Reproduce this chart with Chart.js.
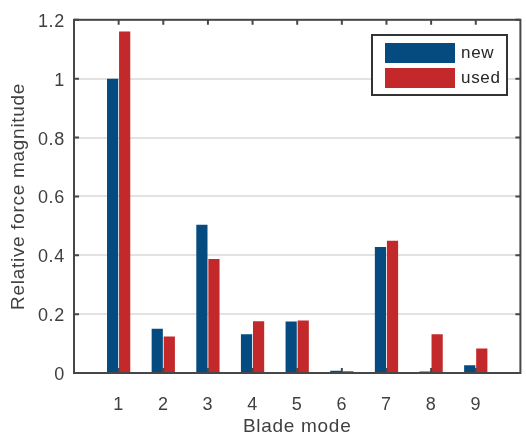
<!DOCTYPE html>
<html>
<head>
<meta charset="utf-8">
<script src="https://cdn.jsdelivr.net/npm/chart.js@4.4.1/dist/chart.umd.min.js"></script>
<style>
  html, body { margin: 0; padding: 0; background: #fff; overflow: hidden; }
  #wrap { width: 526px; height: 437px; overflow: hidden; }
</style>
</head>
<body>
<div id="wrap"><canvas id="forceChart" width="534" height="437"></canvas></div>
<script>
// Data
const modes = ['1', '2', '3', '4', '5', '6', '7', '8', '9'];
const newBlade = [1.0, 0.150, 0.504, 0.132, 0.175, 0.008, 0.428, 0.005, 0.026];
const usedBlade = [1.16, 0.124, 0.387, 0.176, 0.178, 0.006, 0.449, 0.132, 0.083];
const yTicks = [0, 0.2, 0.4, 0.6, 0.8, 1, 1.2];

const textColor = '#404040';
const axisColor = '#474747';
const fontFamily = '"Liberation Sans", Arial, sans-serif';
const spacing = '0.7px';

// one empty slot each side so the axis runs 0..10 like the original
const labels = ['', ...modes, ''];
const pad = arr => [null, ...arr, null];

// box, inward tick marks and legend drawn on top of the bars
const framePlugin = {
  id: 'frame',
  beforeUpdate(chart) { chart.ctx.letterSpacing = spacing; },
  beforeDraw(chart) { chart.ctx.letterSpacing = spacing; },
  afterDatasetsDraw(chart) {
    const { ctx, chartArea: a, scales: { x, y } } = chart;
    ctx.save();
    ctx.strokeStyle = axisColor;
    ctx.lineWidth = 2;
    ctx.strokeRect(a.left, a.top, a.right - a.left, a.bottom - a.top);

    const len = 5;
    ctx.beginPath();
    modes.forEach((m, i) => {
      const px = x.getPixelForValue(i + 1);
      ctx.moveTo(px, a.bottom); ctx.lineTo(px, a.bottom - len);
      ctx.moveTo(px, a.top); ctx.lineTo(px, a.top + len);
    });
    yTicks.forEach(v => {
      const py = y.getPixelForValue(v);
      ctx.moveTo(a.left, py); ctx.lineTo(a.left + len, py);
      ctx.moveTo(a.right, py); ctx.lineTo(a.right - len, py);
    });
    ctx.stroke();

    // legend
    ctx.fillStyle = '#fff';
    ctx.fillRect(372, 35, 135, 60);
    ctx.strokeStyle = '#333';
    ctx.strokeRect(372, 35, 135, 60);
    ctx.font = '17px ' + fontFamily;
    ctx.textBaseline = 'middle';
    ctx.textAlign = 'left';
    chart.data.datasets.forEach((ds, i) => {
      const top = 43 + i * 25;
      ctx.fillStyle = ds.backgroundColor;
      ctx.fillRect(385, top, 70, 20);
      ctx.fillStyle = '#262626';
      ctx.fillText(ds.label, 461, top + 10);
    });
    ctx.restore();
  }
};

const ctx = document.getElementById('forceChart').getContext('2d');
const forceChart = new Chart(ctx, {
  type: 'bar',
  data: {
    labels: labels,
    datasets: [
      { label: 'new', data: pad(newBlade), backgroundColor: '#064b80' },
      { label: 'used', data: pad(usedBlade), backgroundColor: '#c3292a' }
    ]
  },
  options: {
    responsive: false,
    animation: false,
    devicePixelRatio: 1,
    categoryPercentage: 0.54,
    barPercentage: 0.93,
    layout: { padding: { top: 13, right: 6, left: 0, bottom: 0 } },
    plugins: {
      legend: { display: false },
      tooltip: { enabled: false }
    },
    scales: {
      x: {
        offset: false,
        grid: { display: false },
        border: { display: false },
        ticks: {
          color: textColor,
          padding: 13.6,
          maxRotation: 0,
          autoSkip: false,
          font: { family: fontFamily, size: 18 }
        },
        title: {
          display: true,
          text: 'Blade mode',
          color: textColor,
          font: { family: fontFamily, size: 19, lineHeight: 1 },
          padding: { top: 0, bottom: 0.7 }
        },
        afterFit(scale) { scale.height = 64; }
      },
      y: {
        min: 0,
        max: 1.2,
        afterBuildTicks(scale) { scale.ticks = yTicks.map(v => ({ value: v })); },
        grid: { color: '#e2e2e2', lineWidth: 2, drawTicks: false },
        border: { display: false },
        ticks: {
          color: textColor,
          padding: 9,
          labelOffset: 2,
          callback: v => String(v),
          font: { family: fontFamily, size: 18 }
        },
        title: {
          display: true,
          text: 'Relative force magnitude',
          color: textColor,
          font: { family: fontFamily, size: 19, lineHeight: 1 },
          padding: { top: 9, bottom: 0 }
        },
        afterFit(scale) { scale.width = 74; }
      }
    }
  },
  plugins: [framePlugin]
});
</script>
</body>
</html>
